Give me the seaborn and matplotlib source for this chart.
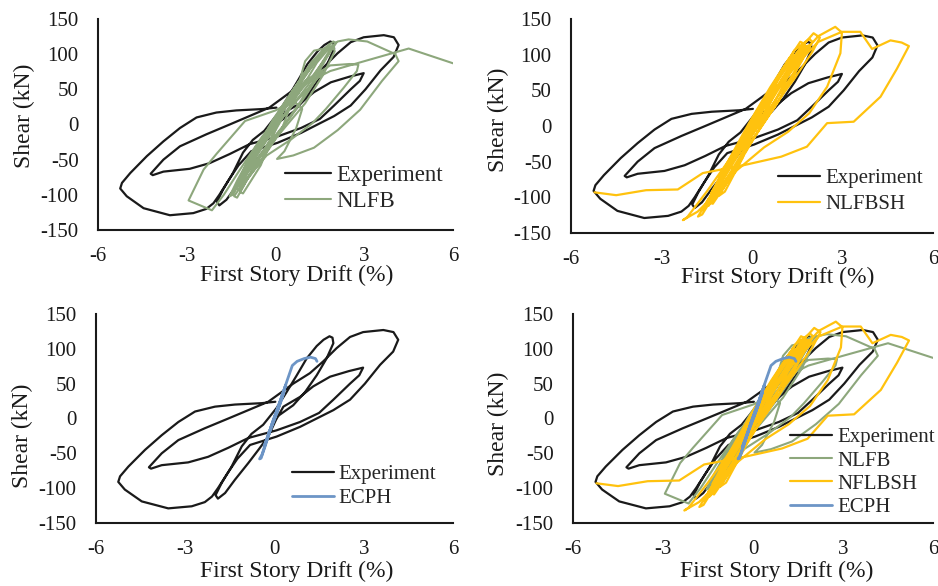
import numpy as np
import pandas as pd
import seaborn as sns
import matplotlib.pyplot as plt
from matplotlib.ticker import MultipleLocator

# traced (drift %, shear kN) points, in loading order
exp_pts = [
    (0.00, 0), (0.63, 19), (1.03, 38), (1.42, 62), (1.75, 86), (1.98, 108), (1.95, 116), (1.85, 118),
    (1.65, 113), (1.42, 104), (1.08, 86), (0.75, 62), (0.41, 38), (0.07, 15), (-0.38, -9), (-0.77, -22),
    (-1.10, -40), (-1.44, -69), (-1.78, -93), (-1.98, -110), (-1.90, -115), (-1.66, -107), (-1.33, -88),
    (-0.88, -64), (-0.54, -45), (-0.21, -26), (0.05, -2), (0.30, 17), (0.86, 31), (1.30, 46), (1.87, 60),
    (2.50, 68), (2.98, 73), (2.85, 62), (2.54, 50), (1.98, 27), (1.50, 8), (0.86, -5), (0.07, -17),
    (-0.88, -28), (-1.55, -42), (-2.23, -55), (-2.90, -63), (-3.79, -67), (-4.15, -72), (-4.22, -70),
    (-3.79, -50), (-3.23, -31), (-2.34, -14), (-1.55, 0), (-0.88, 12), (-0.21, 24), (0.18, 36), (0.63, 50),
    (1.19, 65), (1.64, 82), (2.09, 101), (2.54, 117), (2.98, 124), (3.66, 127), (4.00, 124), (4.16, 113),
    (3.99, 96), (3.55, 77), (3.04, 50), (2.54, 27), (1.98, 12), (1.42, 0), (0.86, -12), (0.07, -26),
    (-0.82, -38), (-1.25, -58), (-1.60, -80), (-1.90, -100), (-2.10, -112), (-2.34, -120), (-2.78, -126),
    (-3.57, -129), (-4.46, -119), (-5.03, -102), (-5.25, -91), (-5.19, -83), (-4.91, -69), (-4.35, -45),
    (-3.79, -24), (-3.23, -5), (-2.67, 10), (-2.00, 17), (-1.33, 20), (-0.43, 22), (0.03, 24),
]

nlfb_pts = [
    (0.00, 0), (0.25, 18), (0.45, 32), (0.35, 28), (-0.10, -4), (-0.45, -28), (-0.55, -36), (-0.35, -24),
    (0.10, 10), (0.55, 40), (0.80, 58), (0.70, 54), (0.20, 22), (-0.40, -20), (-0.80, -50), (-0.95, -60),
    (-0.70, -44), (-0.10, -2), (0.50, 42), (1.00, 72), (1.30, 90), (1.20, 86), (0.60, 50), (-0.10, 6),
    (-0.70, -40), (-1.10, -70), (-1.25, -80), (-1.00, -62), (-0.30, -14), (0.40, 36), (1.20, 88),
    (1.65, 108), (1.85, 115), (1.70, 108), (1.00, 70), (0.30, 28), (-0.50, -26), (-1.10, -68),
    (-1.40, -92), (-1.50, -100), (-1.25, -86), (-0.60, -40), (0.20, 18), (0.90, 62), (1.50, 100),
    (1.95, 118), (2.05, 116), (1.80, 100), (1.20, 66), (0.60, 36), (0.00, 8), (-0.70, -34), (-1.30, -80),
    (-1.55, -102), (-1.45, -100), (-0.90, -62), (-0.20, -16), (0.40, 20), (1.20, 55), (1.60, 75),
    (1.50, 72), (1.00, 40), (0.50, 10), (-0.30, -30), (-0.90, -66), (-1.20, -88), (-1.00, -80),
    (-0.40, -46), (0.20, -8), (0.80, 60), (1.00, 90), (1.30, 105), (1.90, 110), (1.75, 100), (1.10, 56),
    (0.40, 18), (-0.40, -22), (-1.00, -58), (-1.35, -90), (-1.20, -92), (-0.60, -58), (0.10, -12),
    (0.80, 30), (1.40, 70), (1.95, 112), (2.00, 104), (1.60, 70), (1.00, 30), (0.20, -10), (-0.60, -50),
    (-1.20, -96), (-1.10, -98), (-0.50, -58), (0.30, 25), (1.00, 62), (1.85, 84),
    (2.50, 86), (2.80, 85), (2.75, 76), (2.30, 52), (1.70, 22), (1.25, 2), (0.50, -22), (-0.30, -44),
    (-1.00, -78), (-1.40, -102), (-1.30, -104), (-0.90, -74), (-0.30, -30), (0.30, 14), (0.80, 46),
    (1.40, 88), (1.80, 108), (2.10, 118), (2.47, 121), (3.10, 118), (4.05, 100), (4.16, 90), (3.60, 62),
    (2.86, 21), (2.10, -8), (1.30, -33), (0.60, -44), (0.05, -49), (0.30, -38), (0.70, -5), (0.90, 22),
    (0.60, 34), (0.00, 20), (-1.03, 5), (-2.00, -42), (-2.43, -64), (-2.94, -108), (-2.15, -122),
    (-1.75, -100), (-1.20, -64), (-0.50, -20), (0.40, 30), (1.00, 58), (1.85, 76), (3.00, 90),
    (4.50, 108), (6.00, 87),
]

nlfbsh_pts = [
    (0.00, 0), (0.30, 22), (0.50, 38), (0.35, 30), (-0.20, -8), (-0.50, -32), (-0.60, -40), (-0.40, -28),
    (0.15, 14), (0.60, 48), (0.85, 66), (0.70, 58), (0.10, 12), (-0.50, -34), (-0.85, -60), (-1.00, -70),
    (-0.80, -56), (-0.10, -4), (0.60, 50), (1.10, 84), (1.35, 100), (1.25, 96), (0.60, 54), (-0.10, 4),
    (-0.80, -50), (-1.20, -82), (-1.35, -94), (-1.10, -78), (-0.30, -16), (0.50, 44), (1.20, 92),
    (1.60, 118), (1.75, 115), (1.50, 96), (0.80, 54), (0.00, 2), (-0.80, -52), (-1.40, -100),
    (-1.65, -118), (-1.50, -112), (-0.80, -60), (0.20, 10), (0.90, 70), (1.40, 106), (1.90, 122),
    (2.00, 118), (1.70, 96), (1.10, 56), (0.50, 20), (-0.30, -26), (-1.00, -76), (-1.50, -106),
    (-1.30, -109), (-0.90, -84), (-0.20, -36), (0.50, 14), (1.20, 70), (1.70, 110), (1.95, 114),
    (1.50, 80), (0.90, 36), (0.20, -8), (-0.60, -60), (-1.20, -96), (-1.45, -112), (-1.20, -100),
    (-0.50, -50), (0.30, 8), (1.00, 66), (1.50, 100), (1.80, 112), (1.40, 72), (0.80, 30), (0.00, -20),
    (-0.70, -70), (-1.10, -98), (-0.90, -92), (-0.30, -44), (0.00, 0), (0.80, 60), (1.50, 104),
    (2.04, 130), (2.25, 124), (2.00, 104), (1.40, 66), (0.70, 26), (0.00, -12), (-0.80, -58),
    (-1.40, -100), (-1.79, -127), (-1.65, -124), (-1.10, -86), (-0.40, -36), (0.30, 12), (1.00, 60),
    (1.60, 98), (2.20, 126), (2.76, 139), (2.98, 131), (2.93, 102), (2.49, 55), (1.90, 18), (1.20, -8),
    (0.40, -30), (-0.50, -62), (-1.20, -95), (-1.80, -120), (-2.29, -132), (-2.15, -128), (-1.50, -92),
    (-0.80, -50), (0.00, 0), (0.80, 50), (1.60, 92), (2.20, 118), (2.98, 132), (3.59, 132), (3.98, 108),
    (4.59, 120), (4.96, 117), (5.20, 112), (4.80, 80), (4.26, 41), (3.37, 6), (2.49, 4), (1.82, -29),
    (0.97, -43), (-0.28, -55), (-1.63, -66), (-2.46, -89), (-3.51, -90), (-4.50, -97), (-5.22, -93),
]

ecph_pts = [
    (0.00, 0), (0.20, 24), (0.32, 38), (0.20, 22), (-0.20, -22), (-0.35, -40), (-0.25, -30), (0.10, 10),
    (0.38, 48), (0.25, 32), (-0.10, -10), (-0.42, -52), (-0.50, -58), (-0.45, -57), (-0.30, -38),
    (-0.08, -7), (0.20, 26), (0.43, 55), (0.60, 76), (0.76, 82), (1.00, 86), (1.21, 88), (1.38, 86),
    (1.43, 82),
]

x_ticks = [-6, -3, 0, 3, 6]
y_ticks = [-150, -100, -50, 0, 50, 100, 150]

c_exp = '#1a1a1a'
c_nlfb = '#8da77c'
c_nlfbsh = '#ffc20e'
c_ecph = '#6d95c6'

sns.set_style('white')
plt.rcParams['font.family'] = ['Liberation Serif', 'DejaVu Serif']
plt.rcParams['axes.unicode_minus'] = False

fig = plt.figure(figsize=(9.38, 5.86), dpi=100)
# [left, bottom, width, height] in figure fractions
boxes = [
    [0.1045, 0.6075, 0.3785, 0.3601],
    [0.6087, 0.6024, 0.3860, 0.3652],
    [0.1023, 0.1075, 0.3806, 0.3567],
    [0.6109, 0.1075, 0.3838, 0.3567],
]
axs = [fig.add_axes(b) for b in boxes]


def draw(ax, pts, color, lw, label):
    df = pd.DataFrame(pts, columns=['drift', 'shear'])
    sns.lineplot(data=df, x='drift', y='shear', sort=False, estimator=None,
                 color=color, lw=lw, label=label, ax=ax)


def style(ax, ylab_xy, xlab_xy, leg_xy, leg_fs, leg_sp, minor=False):
    ax.set_xlim(-6, 6)
    ax.set_ylim(-150, 150)
    ax.set_xticks(x_ticks)
    ax.set_yticks(y_ticks)
    if minor:
        ax.xaxis.set_minor_locator(MultipleLocator(0.6))
        ax.tick_params(axis='x', which='minor', direction='in', length=5, width=1.1, color=c_exp)
    sns.despine(ax=ax)
    for s in ['left', 'bottom']:
        ax.spines[s].set_linewidth(1.5)
        ax.spines[s].set_color(c_exp)
    ax.tick_params(axis='both', which='major', direction='in', length=5, width=1.1,
                   labelsize=15, colors=c_exp)
    ax.tick_params(axis='x', pad=12)
    ax.tick_params(axis='y', pad=14)
    ax.set_xlabel('')
    ax.set_ylabel('')
    ax.text(ylab_xy[0], ylab_xy[1], 'Shear (kN)', rotation=90, ha='center', va='center',
            fontsize=17, color=c_exp, transform=ax.transAxes)
    ax.text(xlab_xy[0], xlab_xy[1], 'First Story Drift (%)', ha='center', va='top',
            fontsize=17, color=c_exp, transform=ax.transAxes)
    ax.legend(loc='upper left', bbox_to_anchor=leg_xy, frameon=False, fontsize=leg_fs,
              handlelength=2.0, handletextpad=0.25, borderpad=0, borderaxespad=0,
              labelspacing=leg_sp)


ax = axs[0]
draw(ax, exp_pts, c_exp, 1.6, 'Experiment')
draw(ax, nlfb_pts, c_nlfb, 1.5, 'NLFB')
style(ax, (-0.206, 0.54), (0.56, -0.165), (0.527, 0.31), 16.5, 0.22)

ax = axs[1]
draw(ax, exp_pts, c_exp, 1.6, 'Experiment')
draw(ax, nlfbsh_pts, c_nlfbsh, 1.6, 'NLFBSH')
style(ax, (-0.199, 0.528), (0.57, -0.16), (0.572, 0.30), 15, 0.3)

ax = axs[2]
draw(ax, exp_pts, c_exp, 1.6, 'Experiment')
draw(ax, ecph_pts, c_ecph, 2.0, 'ECPH')
style(ax, (-0.207, 0.416), (0.563, -0.18), (0.549, 0.28), 15, 0.22)

ax = axs[3]
draw(ax, exp_pts, c_exp, 1.6, 'Experiment')
draw(ax, nlfb_pts, c_nlfb, 1.5, 'NLFB')
draw(ax, nlfbsh_pts, c_nlfbsh, 1.6, 'NFLBSH')
draw(ax, ecph_pts, c_ecph, 2.0, 'ECPH')
style(ax, (-0.206, 0.474), (0.567, -0.18), (0.603, 0.455), 15, 0.17, minor=True)

fig.savefig('out.png', dpi=100)
